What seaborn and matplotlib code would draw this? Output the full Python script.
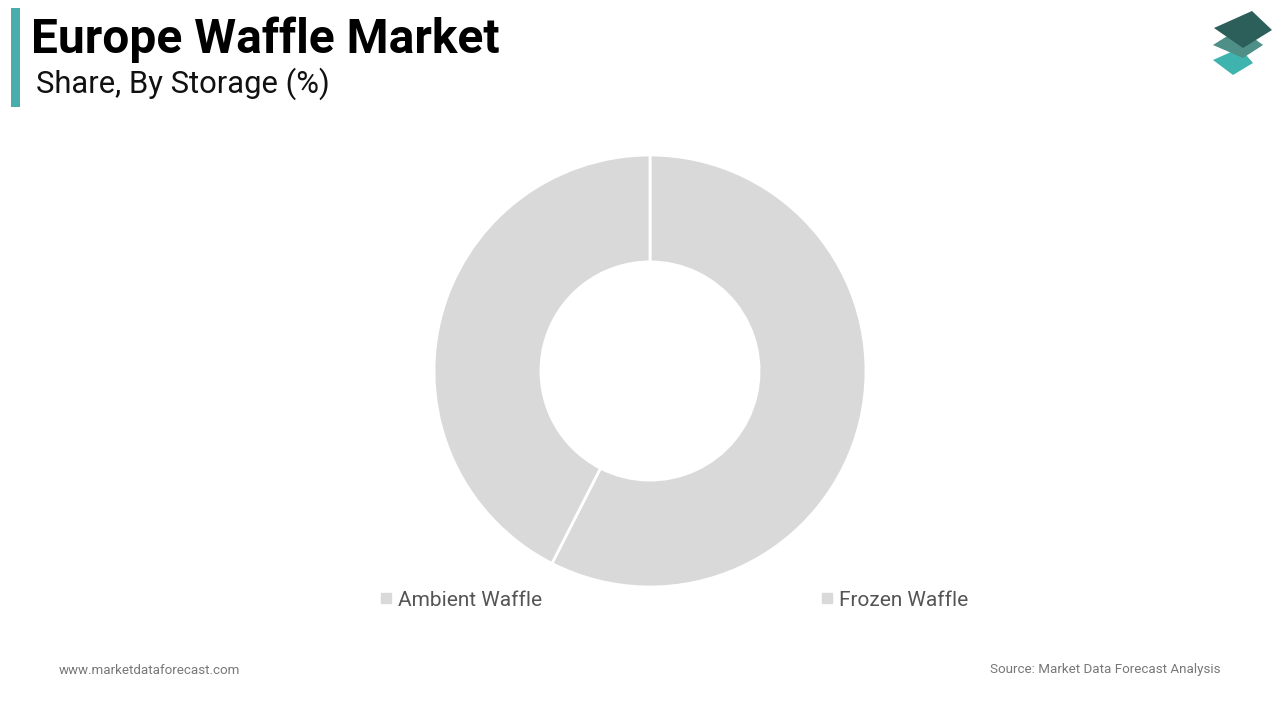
import matplotlib
matplotlib.use("Agg")
import matplotlib.pyplot as plt
import seaborn as sns
from matplotlib.patches import Polygon, Rectangle
from matplotlib.lines import Line2D

# data
segments = ["Ambient Waffle", "Frozen Waffle"]
shares = [57.5, 42.5]
slice_colors = ["#d9d9d9", "#d9d9d9"]

title = "Europe Waffle Market"
subtitle = "Share, By Storage (%)"
footer_left = "www.marketdataforecast.com"
footer_right = "Source: Market Data Forecast Analysis"

sns.set_theme(style="white")
plt.rcParams["font.family"] = ["Roboto", "DejaVu Sans"]

W, H = 1280, 720
fig = plt.figure(figsize=(12.8, 7.2), dpi=100)
fig.patch.set_facecolor("white")


def fx(x):
    return x / W


def fy(y):
    return 1 - y / H


# donut
ax = fig.add_axes([fx(650 - 216), fy(371 + 216), 432 / W, 432 / H])
ax.pie(shares, colors=slice_colors, startangle=90, counterclock=False,
       radius=1, wedgeprops=dict(width=0.495, edgecolor="white", linewidth=2))
ax.set_xlim(-1, 1)
ax.set_ylim(-1, 1)
ax.set_aspect("equal")
ax.axis("off")

# legend
handles = [Line2D([0], [0], marker="s", linestyle="none", markersize=7,
                  markerfacecolor=c, markeredgecolor=c) for c in slice_colors]
fig.legend(handles, segments, loc="center", bbox_to_anchor=(fx(672), fy(600)),
           ncol=2, frameon=False, fontsize=15, labelcolor="#555555",
           handletextpad=0.05, columnspacing=13.2, handlelength=1.0)

# header
fig.add_artist(Rectangle((fx(11), fy(107)), 9 / W, 99 / H,
                         transform=fig.transFigure, color="#4aadad", lw=0))
fig.text(fx(31), fy(40), title, fontsize=34.5, fontweight="bold",
         color="black", va="center", ha="left")
fig.text(fx(36), fy(84), subtitle, fontsize=22.3, color="#111111",
         va="center", ha="left")

# logo
logo = [
    ([(1240, 48), (1253, 63), (1233, 75), (1213, 60)], "#3fb3ae"),
    ([(1240, 28), (1263, 45), (1243, 58), (1213, 45)], "#4e8f88"),
    ([(1252, 11), (1272, 30), (1243, 48), (1214, 28)], "#2d5f5a"),
]
for pts, col in logo:
    fig.add_artist(Polygon([(fx(x), fy(y)) for x, y in pts], closed=True,
                           transform=fig.transFigure, color=col, lw=0,
                           joinstyle="round"))

# footer
fig.text(fx(59), fy(670), footer_left, fontsize=9.6, color="#777777",
         va="center", ha="left")
fig.text(fx(1220), fy(670), footer_right, fontsize=9.6, color="#777777",
         va="center", ha="right")

fig.savefig("out.png", dpi=100, facecolor="white")
